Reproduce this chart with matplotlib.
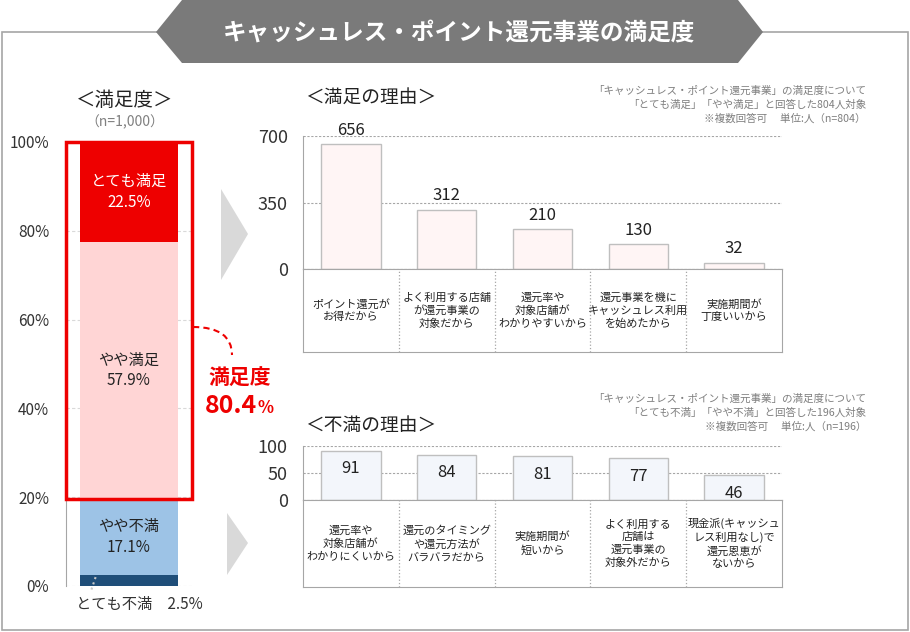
import matplotlib
matplotlib.use("Agg")
import matplotlib.pyplot as plt
from matplotlib.patches import Polygon, Rectangle, PathPatch
from matplotlib.path import Path

plt.rcParams['font.family'] = ['Noto Sans CJK JP', 'DejaVu Sans']

W, H = 910, 632

# data
title = "キャッシュレス・ポイント還元事業の満足度"
sat_labels = ["とても不満", "やや不満", "やや満足", "とても満足"]
sat_values = [2.5, 17.1, 57.9, 22.5]
sat_colors = ["#1f4e79", "#9dc3e6", "#ffd5d5", "#ee0000"]
sat_total = 80.4

good_reasons = ["ポイント還元が\nお得だから", "よく利用する店舗\nが還元事業の\n対象だから",
                "還元率や\n対象店舗が\nわかりやすいから", "還元事業を機に\nキャッシュレス利用\nを始めたから",
                "実施期間が\n丁度いいから"]
good_counts = [656, 312, 210, 130, 32]
good_ticks = [0, 350, 700]

bad_reasons = ["還元率や\n対象店舗が\nわかりにくいから", "還元のタイミング\nや還元方法が\nバラバラだから",
               "実施期間が\n短いから", "よく利用する\n店舗は\n還元事業の\n対象外だから",
               "現金派(キャッシュ\nレス利用なし)で\n還元恩恵が\nないから"]
bad_counts = [91, 84, 81, 77, 46]
bad_ticks = [0, 50, 100]

good_note = "「キャッシュレス・ポイント還元事業」の満足度について\n「とても満足」「やや満足」と回答した804人対象\n※複数回答可　 単位:人（n=804）"
bad_note = "「キャッシュレス・ポイント還元事業」の満足度について\n「とても不満」「やや不満」と回答した196人対象\n※複数回答可　 単位:人（n=196）"


def px(x0, y0, x1, y1):
    return [x0 / W, 1 - y1 / H, (x1 - x0) / W, (y1 - y0) / H]


fig = plt.figure(figsize=(W / 100, H / 100), dpi=100)

# background layer in pixel coordinates
bg = fig.add_axes([0, 0, 1, 1])
bg.set_xlim(0, W)
bg.set_ylim(H, 0)
bg.axis("off")
bg.add_patch(Rectangle((1.5, 32), 906, 598, fill=False, ec="#a6a6a6", lw=1.2))
bg.add_patch(Polygon([(156, 32), (182, 0), (738, 0), (763, 32), (738, 63), (182, 63)],
                     closed=True, fc="#7a7a7a", ec="none"))
bg.text(459, 32, title, color="white", fontsize=17, fontweight="bold", ha="center", va="center")

# arrows
bg.add_patch(Polygon([(221, 189), (248, 234), (221, 280)], closed=True, fc="#d9d9d9", ec="none"))
bg.add_patch(Polygon([(227, 513), (248, 543), (227, 575)], closed=True, fc="#d9d9d9", ec="none"))

bg.text(125, 100, "＜満足度＞", fontsize=14, ha="center", va="center", color="#222222")
bg.text(125, 122, "（n=1,000）", fontsize=10, ha="center", va="center", color="#808080")
bg.text(305, 98, "＜満足の理由＞", fontsize=13.5, ha="left", va="center", color="#222222")
bg.text(305, 425, "＜不満の理由＞", fontsize=13.5, ha="left", va="center", color="#222222")
bg.text(866, 105, good_note, fontsize=7.6, ha="right", va="center", color="#7f7f7f", linespacing=1.45)
bg.text(866, 413, bad_note, fontsize=7.6, ha="right", va="center", color="#7f7f7f", linespacing=1.45)

# dashed connector and total label
curve = Path([(193, 327), (232, 327), (232, 355)], [Path.MOVETO, Path.CURVE3, Path.CURVE3])
bg.add_patch(PathPatch(curve, fill=False, ec="#ee0000", lw=1.5, ls=(0, (3, 2))))
bg.text(240, 378, "満足度", fontsize=15, fontweight="bold", color="#ee0000", ha="center", va="center")
bg.text(257, 406, f"{sat_total:.1f}", fontsize=18, fontweight="bold", color="#ee0000",
        ha="right", va="center")
bg.text(258, 408, "%", fontsize=12, fontweight="bold", color="#ee0000", ha="left", va="center")

# left stacked bar
ax = fig.add_axes(px(66, 142, 192, 586))
ax.patch.set_alpha(0)
ax.set_xlim(0, 1)
ax.set_ylim(0, 100)
bottom = 0
for lab, v, c in zip(sat_labels, sat_values, sat_colors):
    ax.bar(0.5, v, width=0.78, bottom=bottom, color=c, zorder=2)
    if lab != "とても不満":
        tc = "white" if lab == "とても満足" else "#222222"
        ax.text(0.5, bottom + v / 2, f"{lab}\n{v:.1f}%", ha="center", va="center",
                fontsize=11, color=tc, linespacing=1.3, zorder=3)
    bottom += v
ax.set_yticks([0, 20, 40, 60, 80, 100])
ax.set_yticklabels([f"{t}%" for t in [0, 20, 40, 60, 80, 100]])
ax.tick_params(axis="y", length=0, pad=12, labelsize=11, labelcolor="#333333")
ax.set_xticks([])
ax.grid(axis="y", color="#d9d9d9", ls=(0, (3, 2)), lw=0.8, zorder=0)
for s in ["top", "right", "bottom"]:
    ax.spines[s].set_visible(False)
ax.spines["left"].set_color("#a6a6a6")
ax.add_patch(Rectangle((0, sat_values[0] + sat_values[1]), 1, sat_values[2] + sat_values[3],
                       fill=False, ec="#ee0000", lw=2.5, zorder=5, clip_on=False))
# dotted leader from the small segment to its label
ax.plot([0.235, 0.195], [2.0, -1.4], color="#c8c8c8", ls=":", lw=1.5, zorder=6, clip_on=False)
ax.text(0.58, -4.2, f"{sat_labels[0]}　{sat_values[0]:.1f}%", ha="center", va="center",
        fontsize=11, color="#333333")


def reason_chart(box, tbox, reasons, counts, ticks, fc, inside):
    a = fig.add_axes(px(*box))
    a.patch.set_alpha(0)
    n = len(counts)
    a.bar(range(n), counts, width=0.62, color=fc, edgecolor="#bfbfbf", lw=1, zorder=2)
    a.set_xlim(-0.5, n - 0.5)
    a.set_ylim(0, ticks[-1])
    a.set_yticks(ticks)
    a.tick_params(axis="y", length=0, pad=11, labelsize=13, labelcolor="#333333")
    a.set_xticks([])
    a.grid(axis="y", color="#a6a6a6", ls=(0, (2, 1.5)), lw=0.8, zorder=0)
    for s in ["top", "right"]:
        a.spines[s].set_visible(False)
    a.spines["left"].set_color("#a6a6a6")
    a.spines["bottom"].set_color("#a6a6a6")
    for i, v in enumerate(counts):
        if inside:
            a.annotate(str(v), (i, v), xytext=(0, -13), textcoords="offset points",
                       ha="center", va="center", fontsize=12, color="#222222")
        else:
            a.annotate(str(v), (i, v), xytext=(0, 4), textcoords="offset points",
                       ha="center", va="bottom", fontsize=12, color="#222222")
    t = fig.add_axes(px(*tbox))
    t.set_xlim(0, n)
    t.set_ylim(0, 1)
    t.set_xticks([])
    t.set_yticks([])
    for s in t.spines.values():
        s.set_color("#a6a6a6")
    for i in range(1, n):
        t.axvline(i, color="#a6a6a6", ls=":", lw=0.9)
    for i, r in enumerate(reasons):
        t.text(i + 0.5, 0.5, r, ha="center", va="center", fontsize=8,
               color="#222222", linespacing=1.3)


reason_chart((303, 136, 782, 269), (303, 269, 782, 352), good_reasons, good_counts,
             good_ticks, "#fff5f5", False)
reason_chart((303, 446, 782, 500), (303, 500, 782, 587), bad_reasons, bad_counts,
             bad_ticks, "#f3f6fb", True)

fig.savefig("out.png", dpi=100)
